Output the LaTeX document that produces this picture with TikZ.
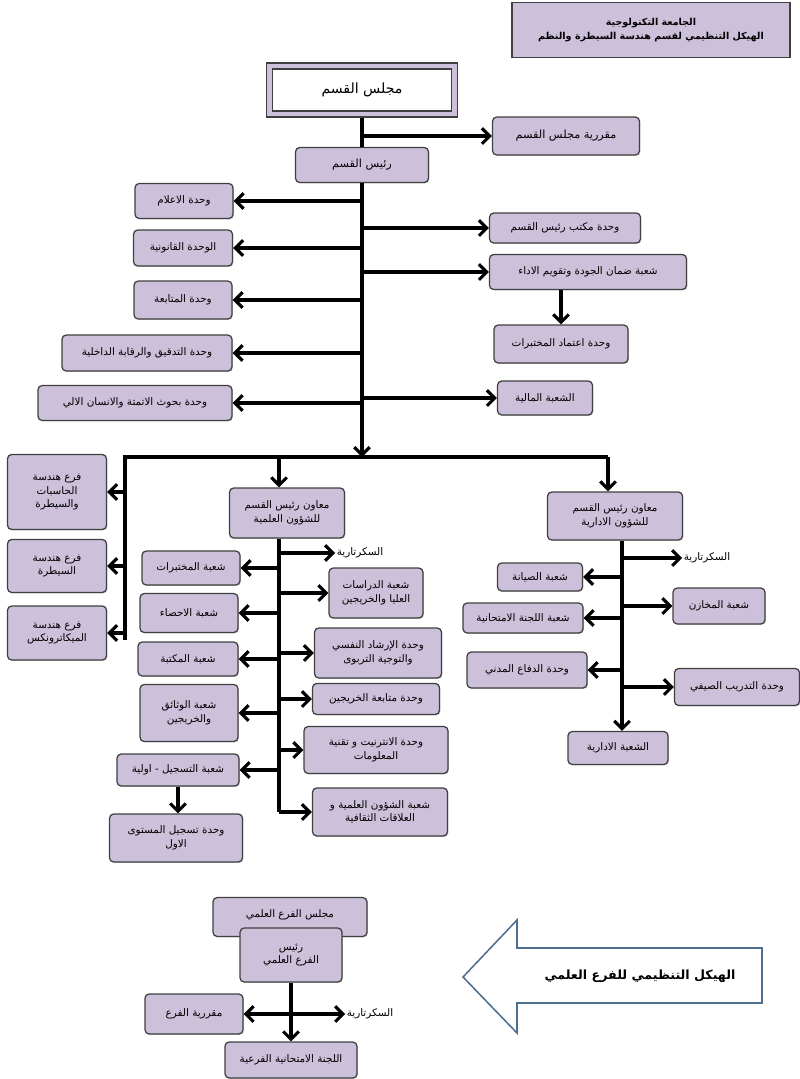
\documentclass[tikz,border=0pt]{standalone}
\usepackage{fontspec}
\newfontfamily\arabicfont[Script=Arabic]{DejaVu Sans}
\TeXXeTstate=1
\usetikzlibrary{arrows.meta,shadows}
\definecolor{boxfill}{HTML}{CCC0DA}
\definecolor{boxline}{HTML}{404040}
\definecolor{blockline}{HTML}{4F6F8F}
\newcommand{\artxt}[1]{\beginR #1\endR}
\newcommand{\arsmall}{\arabicfont\fontsize{7.4}{9.6}\selectfont}
\newcommand{\armid}{\arabicfont\fontsize{8}{10}\selectfont}
\newcommand{\arbig}{\arabicfont\fontsize{10}{12}\selectfont}
\tikzset{
  box/.style={draw=boxline, fill=boxfill, rounded corners=3pt, line width=0.9pt,
    align=center, inner sep=1pt, font=\arsmall,
    drop shadow={shadow xshift=0.7pt, shadow yshift=-0.7pt, opacity=0.35}},
  sz/.style 2 args={minimum width=#1*0.025cm, minimum height=#2*0.025cm},
  ln/.style={line width=2.4pt},
  arr/.style={line width=2.4pt, -{Straight Barb[length=5.5pt,width=11pt,line width=2.2pt]}},
  darr/.style={line width=2.4pt, {Straight Barb[length=5.5pt,width=11pt,line width=2.2pt]}-{Straight Barb[length=5.5pt,width=11pt,line width=2.2pt]}},
  lbl/.style={font=\arsmall, inner sep=1pt}
}
\begin{document}
\begin{tikzpicture}[x=0.025cm, y=-0.025cm]
                \useasboundingbox (0,0) rectangle (800,1079);
                
                % Drawing title box
                \node [box, rounded corners=0pt, sz={278}{55}, line width=1.2pt, font=\arabicfont\bfseries\fontsize{6.8}{10}\selectfont] (title) at (651,30)
                  {\artxt{الجامعة التكنولوجية}\\\artxt{الهيكل التنظيمي لقسم هندسة السيطرة والنظم}};%
                
                % Drawing department council and head
                \node [box, rounded corners=0pt, sz={191}{54}] (mq) at (362,90) {};%
                \node [draw=boxline, fill=white, line width=0.9pt, minimum width=179*0.025cm, minimum height=42*0.025cm, font=\arbig] (mqin) at (mq) {\artxt{مجلس القسم}};%
                \node [box, sz={147}{38}, font=\armid] (mqr) at (566,136) {\artxt{مقررية مجلس القسم}};%
                \node [box, sz={133}{35}, font=\armid] (rq) at (362,165) {\artxt{رئيس القسم}};%
                \draw [ln] (mq.south) -- (rq.north);%
                \draw [arr] (mq.south |- mqr.west) -- (mqr.west);%
                
                % Drawing units left of the head
                \node [box, sz={98}{35}] (ilam) at (184,201) {\artxt{وحدة الاعلام}};%
                \node [box, sz={99}{36}] (qanun) at (183,248) {\artxt{الوحدة القانونية}};%
                \node [box, sz={98}{38}] (mutaba) at (183,300) {\artxt{وحدة المتابعة}};%
                \node [box, sz={170}{36}] (tadqiq) at (147,353) {\artxt{وحدة التدقيق والرقابة الداخلية}};%
                \node [box, sz={194}{35}] (buhuth) at (135,403) {\artxt{وحدة بحوث الاتمتة والانسان الالي}};%
                
                % Drawing units right of the head
                \node [box, sz={151}{30}] (maktab) at (565,228) {\artxt{وحدة مكتب رئيس القسم}};%
                \node [box, sz={197}{35}] (jawda) at (588,272) {\artxt{شعبة ضمان الجودة وتقويم الاداء}};%
                \node [box, sz={134}{38}] (itimad) at (561,344) {\artxt{وحدة اعتماد المختبرات}};%
                \node [box, sz={95}{34}] (maliya) at (545,398) {\artxt{الشعبة المالية}};%
                
                % Drawing head trunk
                \coordinate (hub) at (362,457);%
                \draw [arr] (rq.south) -- (hub);%
                \foreach \u in {ilam,qanun,mutaba,tadqiq,buhuth}
                  \draw [arr] (rq.south |- \u.east) -- (\u.east);%
                \foreach \u in {maktab,jawda,maliya}
                  \draw [arr] (rq.south |- \u.west) -- (\u.west);%
                \draw [arr] (jawda.south -| itimad.north) -- (itimad.north);%
                
                % Drawing branches
                \node [box, sz={99}{75}] (fh) at (57,492) {\artxt{فرع هندسة}\\\artxt{الحاسبات}\\\artxt{والسيطرة}};%
                \node [box, sz={99}{53}] (fs) at (57,566) {\artxt{فرع هندسة}\\\artxt{السيطرة}};%
                \node [box, sz={99}{54}] (fm) at (57,633) {\artxt{فرع هندسة}\\\artxt{الميكاترونكس}};%
                \coordinate (barL) at (125,457);%
                \coordinate (barR) at (608,457);%
                \coordinate (barE) at (125,640);%
                \draw [ln] (barR) -- (barL) -- (barE);%
                \foreach \u in {fh,fs,fm}
                  \draw [arr] (barL |- \u.east) -- (\u.east);%
                
                % Drawing deputy for scientific affairs
                \node [box, sz={115}{50}] (mi) at (287,513) {\artxt{معاون رئيس القسم}\\\artxt{للشؤون العلمية}};%
                \coordinate (sx) at (279,0);%
                \draw [arr] (sx |- barL) -- (sx |- mi.north);%
                \node [lbl] (sec1) at (360,553) {\artxt{السكرتارية}};%
                \node [box, sz={98}{34}] (mukh) at (191,568) {\artxt{شعبة المختبرات}};%
                \node [box, sz={94}{50}] (dirasat) at (376,593) {\artxt{شعبة الدراسات}\\\artxt{العليا والخريجين}};%
                \node [box, sz={98}{39}] (ihsa) at (189,613) {\artxt{شعبة الاحصاء}};%
                \node [box, sz={100}{34}] (maktaba) at (188,659) {\artxt{شعبة المكتبة}};%
                \node [box, sz={127}{50}] (irshad) at (378,653) {\artxt{وحدة الإرشاد النفسي}\\\artxt{والتوجية التربوى}};%
                \node [box, sz={98}{57}] (wathaiq) at (189,713) {\artxt{شعبة الوثائق}\\\artxt{والخريجين}};%
                \node [box, sz={127}{31}] (mkhar) at (376,699) {\artxt{وحدة متابعة الخريجين}};%
                \node [box, sz={144}{47}] (internet) at (376,750) {\artxt{وحدة الانترنيت و تقنية}\\\artxt{المعلومات}};%
                \node [box, sz={122}{32}] (tasjil) at (178,770) {\artxt{شعبة التسجيل - اولية}};%
                \node [box, sz={133}{48}] (tasjila) at (176,838) {\artxt{وحدة تسجيل المستوى}\\\artxt{الاول}};%
                \node [box, sz={135}{48}] (shuun) at (380,812) {\artxt{شعبة الشؤون العلمية و}\\\artxt{العلاقات الثقافية}};%
                \draw [ln] (sx |- mi.south) -- (sx |- shuun.west);%
                \foreach \u in {mukh,ihsa,maktaba,wathaiq,tasjil}
                  \draw [arr] (sx |- \u.east) -- (\u.east);%
                \foreach \u in {sec1,dirasat,irshad,mkhar,internet,shuun}
                  \draw [arr] (sx |- \u.west) -- (\u.west);%
                \draw [arr] (tasjil.south) -- (tasjil.south |- tasjila.north);%
                
                % Drawing deputy for administrative affairs
                \node [box, sz={135}{48}] (ma) at (615,516) {\artxt{معاون رئيس القسم}\\\artxt{للشؤون الادارية}};%
                \draw [arr] (barR) -- (barR |- ma.north);%
                \coordinate (ax) at (622,0);%
                \node [lbl] (sec2) at (707,558) {\artxt{السكرتارية}};%
                \node [box, sz={85}{28}] (siyana) at (540,577) {\artxt{شعبة الصيانة}};%
                \node [box, sz={92}{36}] (makhazin) at (719,606) {\artxt{شعبة المخازن}};%
                \node [box, sz={120}{30}] (lajna) at (523,618) {\artxt{شعبة اللجنة الامتحانية}};%
                \node [box, sz={120}{36}] (difa) at (527,670) {\artxt{وحدة الدفاع المدني}};%
                \node [box, sz={125}{37}] (tadrib) at (737,687) {\artxt{وحدة التدريب الصيفي}};%
                \node [box, sz={100}{33}] (idariya) at (618,748) {\artxt{الشعبة الادارية}};%
                \draw [arr] (ax |- ma.south) -- (ax |- idariya.north);%
                \foreach \u in {siyana,lajna,difa}
                  \draw [arr] (ax |- \u.east) -- (\u.east);%
                \foreach \u in {sec2,makhazin,tadrib}
                  \draw [arr] (ax |- \u.west) -- (\u.west);%
                
                % Drawing scientific branch chart
                \node [box, sz={154}{39}] (mf) at (290,917) {\raisebox{1.2ex}{\artxt{مجلس الفرع العلمي}}};%
                \node [box, sz={102}{54}] (rf) at (291,955) {\artxt{رئيس}\\\artxt{الفرع العلمي}};%
                \node [box, sz={98}{40}] (muq) at (194,1014) {\artxt{مقررية الفرع}};%
                \node [lbl] (sec3) at (370,1014) {\artxt{السكرتارية}};%
                \node [box, sz={132}{36}] (lf) at (291,1060) {\artxt{اللجنة الامتحانية الفرعية}};%
                \draw [arr] (rf.south) -- (lf.north);%
                \draw [darr] (muq.east) -- (sec3.west);%
                
                % Drawing block arrow
                \draw [blockline, line width=1.1pt, fill=white, line join=miter]
                  (463,977) -- (517,920) -- (517,948) -- (762,948) -- (762,1003)
                  -- (517,1003) -- (517,1033) -- cycle;%
                \node [font=\arabicfont\bfseries\fontsize{9}{11}\selectfont] (blk) at (640,976) {\artxt{الهيكل التنظيمي للفرع العلمي}};%
\end{tikzpicture}
\end{document}
